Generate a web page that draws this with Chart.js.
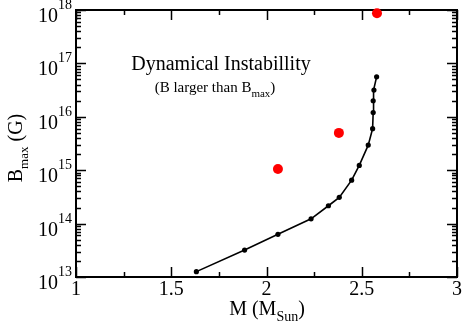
<!DOCTYPE html>
<html>
<head>
<meta charset="utf-8">
<script src="https://cdn.jsdelivr.net/npm/chart.js@4"></script>
<style>
  body { margin: 0; background: #fff; }
  #wrap { width: 462px; height: 328px; }
</style>
</head>
<body>
<div id="wrap"><canvas id="chart" width="462" height="328"></canvas></div>
<script>
// stable sequence (black line with dots)
const curveMass = [1.632, 1.885, 2.06, 2.234, 2.325, 2.382, 2.447, 2.487, 2.534, 2.557, 2.560, 2.560, 2.564, 2.578];
const curveB = [1.26e13, 3.2e13, 6.3e13, 1.23e14, 2.16e14, 3.1e14, 6.5e14, 1.23e15, 2.95e15, 6.0e15, 1.2e16, 2.0e16, 3.16e16, 5.6e16];

// unstable models (red dots)
const unstableMass = [2.06, 2.38, 2.58];
const unstableB = [1.05e15, 5.0e15, 8.7e17];

// axes
const xMajorTicks = [1, 1.5, 2, 2.5, 3];
const xTickLabels = ['1', '1.5', '2', '2.5', '3'];
const xMinorTicks = [1.25, 1.75, 2.25, 2.75];
const yDecades = [13, 14, 15, 16, 17, 18];

const SERIF = "'Liberation Serif', 'DejaVu Serif', serif";

function toPoints(xs, ys) {
  return xs.map((x, i) => ({ x, y: ys[i] }));
}

// draws a row of text pieces; each piece: [text, size, dy]
function drawPieces(ctx, pieces, x, y, align) {
  let total = 0;
  pieces.forEach(p => {
    ctx.font = `${p[1]}px ${SERIF}`;
    total += ctx.measureText(p[0]).width;
  });
  let cx = x;
  if (align === 'center') cx = x - total / 2;
  if (align === 'right') cx = x - total;
  ctx.textAlign = 'left';
  ctx.textBaseline = 'alphabetic';
  pieces.forEach(p => {
    ctx.font = `${p[1]}px ${SERIF}`;
    ctx.fillText(p[0], cx, y + p[2]);
    cx += ctx.measureText(p[0]).width;
  });
}

const framePlugin = {
  id: 'frame',
  beforeDatasetsDraw(chart) {
    const ctx = chart.ctx;
    const { left, right, top, bottom } = chart.chartArea;
    const xs = chart.scales.x;
    const ys = chart.scales.y;
    ctx.save();
    ctx.strokeStyle = '#000';

    // inward ticks on all sides
    ctx.lineWidth = 1.5;
    ctx.beginPath();
    const xTick = (v, len) => {
      const px = Math.round(xs.getPixelForValue(v)) + 0.5;
      ctx.moveTo(px, bottom); ctx.lineTo(px, bottom - len);
      ctx.moveTo(px, top); ctx.lineTo(px, top + len);
    };
    xMajorTicks.forEach(v => xTick(v, 10));
    xMinorTicks.forEach(v => xTick(v, 5));
    const yTick = (v, len) => {
      const py = Math.round(ys.getPixelForValue(v)) + 0.5;
      ctx.moveTo(left, py); ctx.lineTo(left + len, py);
      ctx.moveTo(right, py); ctx.lineTo(right - len, py);
    };
    yDecades.forEach((d, i) => {
      yTick(Math.pow(10, d), 10);
      if (i < yDecades.length - 1) {
        for (let k = 2; k <= 9; k++) yTick(k * Math.pow(10, d), 5);
      }
    });
    ctx.stroke();

    // frame
    ctx.lineWidth = 2;
    ctx.strokeRect(left, top, right - left, bottom - top);

    // tick labels
    ctx.fillStyle = '#000';
    xMajorTicks.forEach((v, i) => {
      drawPieces(ctx, [[xTickLabels[i], 20, 0]], xs.getPixelForValue(v), 295, 'center');
    });
    yDecades.forEach(d => {
      const py = ys.getPixelForValue(Math.pow(10, d));
      drawPieces(ctx, [['10', 20, 0], [String(d), 14, -13]], 72, py + 12, 'right');
    });

    // axis titles
    drawPieces(ctx, [['M (M', 20, 0], ['Sun', 14, 6], [')', 20, 0]], 267, 315, 'center');
    ctx.save();
    ctx.translate(22, 148);
    ctx.rotate(-Math.PI / 2);
    drawPieces(ctx, [['B', 20, 0], ['max', 13, 6], [' (G)', 20, 0]], 0, 0, 'center');
    ctx.restore();

    // annotation
    drawPieces(ctx, [['Dynamical Instabillity', 20, 0]], 221, 70, 'center');
    drawPieces(ctx, [['(B larger than B', 15, 0], ['max', 11, 5], [')', 15, 0]], 215, 92, 'center');

    ctx.restore();
  }
};

new Chart(document.getElementById('chart'), {
  type: 'scatter',
  data: {
    datasets: [
      {
        label: 'stable',
        data: toPoints(curveMass, curveB),
        showLine: true,
        borderColor: '#000',
        backgroundColor: '#000',
        borderWidth: 1.6,
        pointRadius: 2.6,
        pointBorderWidth: 0,
        tension: 0
      },
      {
        label: 'unstable',
        data: toPoints(unstableMass, unstableB),
        showLine: false,
        borderColor: '#ff0000',
        backgroundColor: '#ff0000',
        pointRadius: 5,
        pointBorderWidth: 0,
        clip: false
      }
    ]
  },
  options: {
    responsive: false,
    animation: false,
    layout: { padding: { left: 76, right: 4, top: 10, bottom: 51 } },
    plugins: { legend: { display: false }, tooltip: { enabled: false } },
    scales: {
      x: { type: 'linear', min: 1, max: 3, display: false },
      y: { type: 'logarithmic', min: 1e13, max: 1e18, display: false }
    }
  },
  plugins: [framePlugin]
});
</script>
</body>
</html>
